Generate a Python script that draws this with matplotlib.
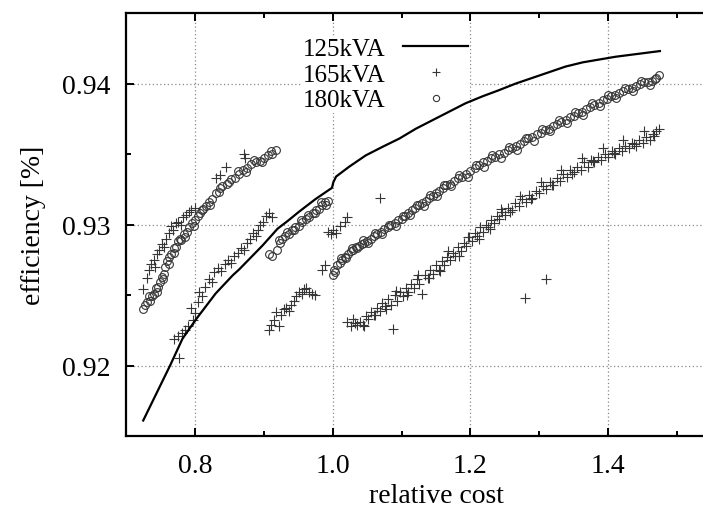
"""
Efficiency vs. relative cost for three transformer ratings (gnuplot-style figure).
"""

import matplotlib as mpl
mpl.use("Agg")
import matplotlib.pyplot as plt
from matplotlib.ticker import MultipleLocator

# ---------------------------------------------------------------- data -----
# 125kVA: Pareto front (solid curve)
x125 = [0.725, 0.743, 0.764, 0.782, 0.802, 0.830, 0.855, 0.864, 0.898, 0.920,
        0.936, 0.951, 0.975, 0.990, 0.999, 1.001, 1.005, 1.024, 1.048, 1.072,
        1.097, 1.121, 1.145, 1.169, 1.193, 1.218, 1.240, 1.266, 1.290, 1.314,
        1.338, 1.363, 1.387, 1.411, 1.443, 1.475]
y125 = [0.9161, 0.9179, 0.9200, 0.9219, 0.9233, 0.9251, 0.9264, 0.9268, 0.9285, 0.9297,
        0.9303, 0.9309, 0.9318, 0.9323, 0.9326, 0.9330, 0.9334, 0.9341, 0.9349, 0.9355,
        0.9361, 0.9368, 0.9374, 0.9380, 0.9386, 0.9391, 0.9395, 0.9400, 0.9404, 0.9408,
        0.9412, 0.9415, 0.9417, 0.9419, 0.9421, 0.9423]

# 165kVA: scattered designs ("+")
x165 = [
    # upper-left group
    0.724, 0.730, 0.733, 0.737, 0.740, 0.742, 0.745, 0.748, 0.752, 0.755,
    0.758, 0.762, 0.765, 0.768, 0.772, 0.776, 0.780, 0.783, 0.787, 0.791,
    0.795, 0.800, 0.830, 0.836, 0.845, 0.872, 0.873,
    # middle group (above the curve)
    0.770, 0.777, 0.775, 0.781, 0.786, 0.790, 0.794, 0.797, 0.800, 0.804,
    0.806, 0.810, 0.815, 0.821, 0.825, 0.828, 0.833, 0.838, 0.843, 0.848,
    0.852, 0.857, 0.862, 0.867, 0.872, 0.876, 0.880, 0.884, 0.888, 0.891,
    0.895, 0.899, 0.903, 0.908, 0.912,
    # lower-middle group
    0.908, 0.911, 0.915, 0.918, 0.922, 0.925, 0.929, 0.932, 0.936, 0.940,
    0.944, 0.947, 0.951, 0.955, 0.958, 0.962, 0.966, 0.970, 0.974,
    # around x = 1.0
    0.985, 0.989, 0.993, 0.997, 1.001, 1.005, 1.010, 1.018, 1.021, 1.068,
    # lower-right band
    1.021, 1.027, 1.032, 1.036, 1.040, 1.044, 1.048, 1.052, 1.056, 1.060,
    1.064, 1.068, 1.072, 1.076, 1.080, 1.084, 1.087, 1.090, 1.094, 1.098,
    1.102, 1.106, 1.110, 1.114, 1.118, 1.122, 1.126, 1.130, 1.134, 1.138,
    1.142, 1.146, 1.150, 1.154, 1.158, 1.162, 1.166, 1.170, 1.174, 1.178,
    1.182, 1.186, 1.190, 1.194, 1.198, 1.202, 1.206, 1.210, 1.214, 1.218,
    1.222, 1.226, 1.230, 1.234, 1.238, 1.242, 1.246, 1.250, 1.255, 1.260,
    1.265, 1.270, 1.275, 1.280, 1.285, 1.290, 1.295, 1.300, 1.305, 1.310,
    1.315, 1.320, 1.325, 1.330, 1.335, 1.340, 1.345, 1.350, 1.355, 1.360,
    1.365, 1.370, 1.375, 1.380, 1.385, 1.390, 1.395, 1.400, 1.405, 1.410,
    1.415, 1.420, 1.425, 1.430, 1.435, 1.440, 1.445, 1.450, 1.455, 1.460,
    1.465, 1.470, 1.474, 1.279, 1.310,
    # second row of the lower-right band
    1.030, 1.046, 1.062, 1.078, 1.092, 1.108, 1.124, 1.140, 1.156, 1.168,
    1.184, 1.196, 1.212, 1.228, 1.244, 1.258, 1.272, 1.288, 1.302, 1.318,
    1.332, 1.348, 1.362, 1.378, 1.392, 1.408, 1.422, 1.438, 1.452, 1.466,
]
y165 = [
    0.9254, 0.9262, 0.9268, 0.9272, 0.9275, 0.9270, 0.9279, 0.9282, 0.9286, 0.9284,
    0.9290, 0.9294, 0.9299, 0.9296, 0.9301, 0.9302, 0.9300, 0.9305, 0.9307, 0.9309,
    0.9310, 0.9312, 0.9333, 0.9335, 0.9341, 0.9350, 0.9347,
    0.9219, 0.9205, 0.9221, 0.9223, 0.9225, 0.9228, 0.9241, 0.9232, 0.9237, 0.9245,
    0.9252, 0.9249, 0.9256, 0.9261, 0.9259, 0.9266, 0.9269, 0.9267, 0.9272, 0.9275,
    0.9273, 0.9278, 0.9280, 0.9283, 0.9282, 0.9287, 0.9290, 0.9294, 0.9292, 0.9296,
    0.9300, 0.9302, 0.9306, 0.9308, 0.9305,
    0.9225, 0.9229, 0.9232, 0.9238, 0.9228, 0.9236, 0.9240, 0.9241, 0.9239, 0.9243,
    0.9246, 0.9249, 0.9252, 0.9251, 0.9254, 0.9255, 0.9252, 0.9251, 0.9250,
    0.9268, 0.9271, 0.9295, 0.9293, 0.9296, 0.9294, 0.9299, 0.9302, 0.9305, 0.9319,
    0.9231, 0.9228, 0.9230, 0.9229, 0.9231, 0.9229, 0.9235, 0.9233, 0.9238, 0.9236,
    0.9241, 0.9239, 0.9244, 0.9242, 0.9247, 0.9243, 0.9226, 0.9250, 0.9246, 0.9252,
    0.9249, 0.9255, 0.9252, 0.9258, 0.9255, 0.9261, 0.9258, 0.9251, 0.9264, 0.9262,
    0.9268, 0.9265, 0.9271, 0.9268, 0.9274, 0.9271, 0.9277, 0.9275, 0.9280, 0.9278,
    0.9284, 0.9281, 0.9287, 0.9285, 0.9291, 0.9288, 0.9294, 0.9292, 0.9298, 0.9295,
    0.9300, 0.9298, 0.9303, 0.9301, 0.9306, 0.9304, 0.9309, 0.9307, 0.9312, 0.9310,
    0.9315, 0.9313, 0.9318, 0.9316, 0.9321, 0.9319, 0.9324, 0.9322, 0.9327, 0.9325,
    0.9330, 0.9328, 0.9333, 0.9331, 0.9336, 0.9334, 0.9339, 0.9337, 0.9341, 0.9339,
    0.9344, 0.9341, 0.9346, 0.9344, 0.9348, 0.9346, 0.9350, 0.9348, 0.9352, 0.9350,
    0.9354, 0.9352, 0.9356, 0.9354, 0.9358, 0.9356, 0.9360, 0.9358, 0.9362, 0.9360,
    0.9364, 0.9366, 0.9368, 0.9248, 0.9261,
    0.9233, 0.9228, 0.9236, 0.9240, 0.9253, 0.9250, 0.9264, 0.9262, 0.9267, 0.9281,
    0.9278, 0.9291, 0.9290, 0.9297, 0.9311, 0.9309, 0.9320, 0.9318, 0.9330, 0.9328,
    0.9339, 0.9336, 0.9347, 0.9345, 0.9354, 0.9351, 0.9360, 0.9357, 0.9366, 0.9363,
]

# 180kVA: scattered designs ("o")
x180 = [
    # left group
    0.724, 0.728, 0.731, 0.735, 0.738, 0.741, 0.744, 0.747, 0.750, 0.752,
    0.755, 0.757, 0.760, 0.763, 0.766, 0.769, 0.772, 0.776, 0.780, 0.784,
    0.788, 0.792, 0.796, 0.800, 0.804, 0.808, 0.812, 0.816, 0.820, 0.825,
    0.830, 0.835, 0.840, 0.846, 0.852, 0.858, 0.864, 0.870, 0.876, 0.882,
    0.888, 0.894, 0.900, 0.906, 0.912, 0.918,
    0.733, 0.745, 0.754, 0.762, 0.770, 0.778, 0.786, 0.798, 0.810, 0.822,
    0.836, 0.850, 0.862, 0.874, 0.886, 0.898, 0.910,
    # middle group
    0.908, 0.912, 0.919, 0.922, 0.926, 0.931, 0.936, 0.941, 0.946, 0.951,
    0.956, 0.961, 0.966, 0.971, 0.976, 0.980, 0.985, 0.989, 0.993,
    0.924, 0.934, 0.944, 0.954, 0.964, 0.974, 0.983, 0.991,
    # right group
    1.000, 1.002, 1.006, 1.010, 1.014, 1.018, 1.022, 1.026, 1.030, 1.034,
    1.038, 1.042, 1.046, 1.050, 1.055, 1.060, 1.065, 1.070, 1.075, 1.080,
    1.085, 1.090, 1.095, 1.100, 1.105, 1.110, 1.115, 1.120, 1.125, 1.130,
    1.135, 1.140, 1.145, 1.150, 1.155, 1.160, 1.165, 1.170, 1.176, 1.182,
    1.188, 1.194, 1.200, 1.206, 1.212, 1.218, 1.224, 1.230, 1.236, 1.242,
    1.248, 1.254, 1.260, 1.266, 1.272, 1.278, 1.284, 1.290, 1.296, 1.302,
    1.308, 1.314, 1.320, 1.326, 1.332, 1.338, 1.344, 1.350, 1.356, 1.362,
    1.368, 1.374, 1.380, 1.386, 1.392, 1.398, 1.404, 1.410, 1.416, 1.422,
    1.428, 1.434, 1.440, 1.446, 1.452, 1.458, 1.464, 1.470, 1.474,
    1.004, 1.012, 1.020, 1.028, 1.036, 1.044, 1.052, 1.062, 1.072, 1.082,
    1.092, 1.102, 1.112, 1.122, 1.132, 1.142, 1.152, 1.162, 1.172, 1.184,
    1.196, 1.208, 1.220, 1.232, 1.244, 1.256, 1.268, 1.280, 1.292, 1.304,
    1.316, 1.328, 1.340, 1.352, 1.364, 1.376, 1.388, 1.400, 1.412, 1.424,
    1.436, 1.448, 1.460, 1.468,
]
y180 = [
    0.9240, 0.9243, 0.9245, 0.9246, 0.9249, 0.9251, 0.9255, 0.9256, 0.9259, 0.9263,
    0.9265, 0.9270, 0.9274, 0.9277, 0.9279, 0.9283, 0.9284, 0.9288, 0.9289, 0.9293,
    0.9295, 0.9298, 0.9301, 0.9303, 0.9306, 0.9308, 0.9311, 0.9313, 0.9316, 0.9318,
    0.9322, 0.9323, 0.9327, 0.9329, 0.9332, 0.9333, 0.9336, 0.9339, 0.9340, 0.9343,
    0.9344, 0.9345, 0.9347, 0.9349, 0.9350, 0.9353,
    0.9249, 0.9252, 0.9261, 0.9272, 0.9280, 0.9290, 0.9291, 0.9299, 0.9310, 0.9314,
    0.9326, 0.9330, 0.9338, 0.9337, 0.9346, 0.9344, 0.9352,
    0.9279, 0.9278, 0.9282, 0.9289, 0.9290, 0.9292, 0.9293, 0.9296, 0.9298, 0.9299,
    0.9302, 0.9304, 0.9305, 0.9308, 0.9310, 0.9311, 0.9314, 0.9316, 0.9317,
    0.9287, 0.9295, 0.9296, 0.9303, 0.9307, 0.9308, 0.9316, 0.9314,
    0.9264, 0.9268, 0.9271, 0.9273, 0.9275, 0.9277, 0.9279, 0.9281, 0.9282, 0.9284,
    0.9285, 0.9286, 0.9287, 0.9288, 0.9290, 0.9292, 0.9293, 0.9295, 0.9297, 0.9298,
    0.9300, 0.9301, 0.9303, 0.9304, 0.9306, 0.9308, 0.9310, 0.9312, 0.9314, 0.9315,
    0.9317, 0.9319, 0.9320, 0.9322, 0.9324, 0.9326, 0.9328, 0.9329, 0.9331, 0.9333,
    0.9334, 0.9336, 0.9338, 0.9340, 0.9342, 0.9344, 0.9345, 0.9347, 0.9348, 0.9350,
    0.9351, 0.9353, 0.9354, 0.9356, 0.9357, 0.9359, 0.9361, 0.9362, 0.9364, 0.9365,
    0.9367, 0.9368, 0.9370, 0.9371, 0.9373, 0.9374, 0.9376, 0.9377, 0.9379, 0.9380,
    0.9382, 0.9383, 0.9385, 0.9386, 0.9388, 0.9389, 0.9391, 0.9392, 0.9393, 0.9395,
    0.9396, 0.9397, 0.9398, 0.9400, 0.9401, 0.9401, 0.9402, 0.9404, 0.9406,
    0.9266, 0.9276, 0.9276, 0.9283, 0.9283, 0.9289, 0.9287, 0.9294, 0.9293, 0.9300,
    0.9299, 0.9306, 0.9307, 0.9314, 0.9313, 0.9321, 0.9320, 0.9328, 0.9327, 0.9335,
    0.9334, 0.9342, 0.9341, 0.9349, 0.9347, 0.9355, 0.9353, 0.9361, 0.9359, 0.9368,
    0.9366, 0.9374, 0.9372, 0.9380, 0.9378, 0.9386, 0.9384, 0.9392, 0.9390, 0.9397,
    0.9395, 0.9402, 0.9399, 0.9403,
]

# ---------------------------------------------------------------- style ----
FONT = "Liberation Serif"
MARK_COLOR = "#363636"

mpl.rcParams.update({
    "font.family": FONT,
    "font.size": 20,
    "axes.linewidth": 1.6,
    "xtick.direction": "in",
    "ytick.direction": "in",
    "xtick.top": True,
    "ytick.right": True,
})

# ---------------------------------------------------------------- figure ---
W, H = 703, 510
fig = plt.figure(figsize=(W / 100, H / 100), dpi=100)
# axes box in pixels: left 126, right ~746 (runs past the crop), top 14, bottom 437
ax = fig.add_axes([126 / W, (H - 437) / H, (746 - 126) / W, (437 - 14) / H])

ax.plot(x180, y180, linestyle="none", marker="o", markersize=5.6,
        markerfacecolor="none", markeredgecolor=MARK_COLOR, markeredgewidth=0.8,
        label="180kVA", zorder=3)
ax.plot(x165, y165, linestyle="none", marker="+", markersize=7,
        color=MARK_COLOR, markeredgewidth=0.8, label="165kVA", zorder=3)
ax.plot(x125, y125, color="black", linewidth=1.6, label="125kVA", zorder=4)

ax.set_xlim(0.7, 1.6)
ax.set_ylim(0.915, 0.945)
ax.xaxis.set_minor_locator(MultipleLocator(0.1))
ax.yaxis.set_minor_locator(MultipleLocator(0.005))
ax.set_xticks([0.8, 1.0, 1.2, 1.4])
ax.set_xticklabels(["0.8", "1.0", "1.2", "1.4"])
ax.set_yticks([0.92, 0.93, 0.94])
ax.set_yticklabels(["0.92", "0.93", "0.94"])

ax.tick_params(which="major", length=6, width=1.4)
ax.tick_params(which="minor", length=3.5, width=1.4)
ax.tick_params(axis="x", which="major", pad=12)
ax.tick_params(axis="y", which="major", pad=11)

ax.grid(True, which="major", color="#8a8a8a", linestyle=(0, (1, 2)), linewidth=0.9)
ax.set_axisbelow(True)

ax.set_xlabel("relative cost", labelpad=4)
ax.set_ylabel("efficiency [%]", labelpad=12)

handles, labels = ax.get_legend_handles_labels()
order = [2, 1, 0]
leg = ax.legend([handles[i] for i in order], [labels[i] for i in order],
                loc="upper left", bbox_to_anchor=(302 / W, 1 - 37 / H),
                bbox_transform=fig.transFigure, borderaxespad=0,
                markerfirst=False, handlelength=2.6, handletextpad=0.7,
                labelspacing=0.13, borderpad=0.05, fontsize=18,
                frameon=True, fancybox=False, framealpha=1.0,
                facecolor="white", edgecolor="none", markerscale=0.8)
leg.set_zorder(2.5)  # hides the grid, but stays under the data
for t in leg.get_texts():
    t.set_ha("right")

fig.savefig("out.png", dpi=100)
